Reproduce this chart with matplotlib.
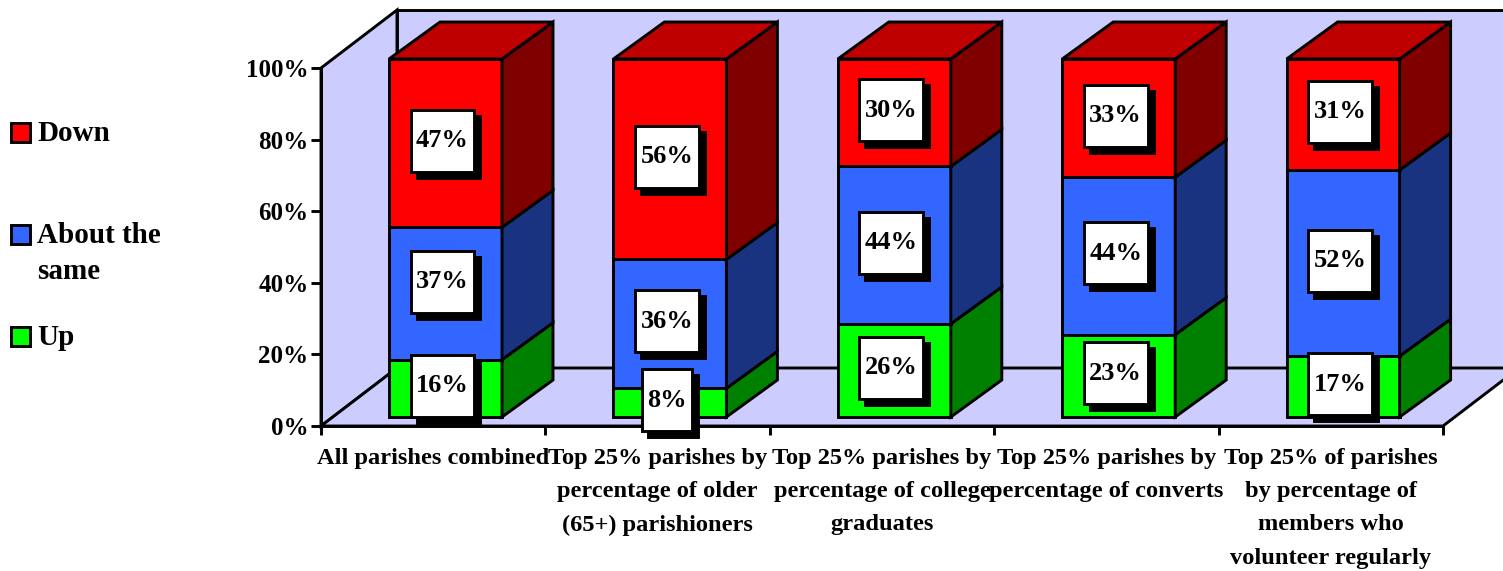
import matplotlib
matplotlib.use("Agg")
import matplotlib.pyplot as plt
from matplotlib.patches import Polygon, Rectangle

# values, in percent
categories = ["All parishes combined",
              "Top 25% parishes by\npercentage of older\n(65+) parishioners",
              "Top 25% parishes by\npercentage of college\ngraduates",
              "Top 25% parishes by\npercentage of converts",
              "Top 25% of parishes\nby percentage of\nmembers who\nvolunteer regularly"]
up = [16, 8, 26, 23, 17]
same = [37, 36, 44, 44, 52]
down = [47, 56, 30, 33, 31]
yticks = [0, 20, 40, 60, 80, 100]

W, H = 1503, 571
FONT = ["Liberation Serif", "DejaVu Serif"]
FS = 18
LW = 2.1

# face, side, top colours
RED = ("#FF0000", "#800000", "#BF0000")
BLUE = ("#3366FF", "#1A3380", "#264DBF")
GREEN = ("#00FF00", "#008000", "#00BF00")

fig = plt.figure(figsize=(W / 100, H / 100), dpi=100)
ax = fig.add_axes([321 / W, 1 - 426 / H, 1122 / W, 358 / H])
ax.set_xlim(0, 5)
ax.set_ylim(0, 100)
ax.patch.set_visible(False)

# pixels per data unit, the fake depth is worked out from these
XU = 1122 / 5
YU = 358 / 100
WALL_DX = 76 / XU
WALL_DY = 58 / YU
BAR_DX = 51 / XU
BAR_DY = 37 / YU
BAR_X0 = 68 / XU
BAR_W = 113 / XU
BAR_LIFT = 9 / YU


def poly(pts, color, z=2):
    ax.add_patch(Polygon(pts, closed=True, facecolor=color, edgecolor="black",
                         linewidth=LW, joinstyle="miter", clip_on=False, zorder=z))


# walls and floor
poly([(0, 0), (WALL_DX, WALL_DY), (WALL_DX, 100 + WALL_DY), (0, 100)], "#CCCCFF", 1)
poly([(WALL_DX, WALL_DY), (5 + WALL_DX, WALL_DY), (5 + WALL_DX, 100 + WALL_DY),
      (WALL_DX, 100 + WALL_DY)], "#CCCCFF", 1)
poly([(0, 0), (5, 0), (5 + WALL_DX, WALL_DY), (WALL_DX, WALL_DY)], "#CCCCFF", 1)

# bars
labels = []
for i in range(len(categories)):
    x0 = i + BAR_X0
    x1 = x0 + BAR_W
    base = 0
    for val, cols in ((up[i], GREEN), (same[i], BLUE), (down[i], RED)):
        b = base + BAR_LIFT
        t = base + val + BAR_LIFT
        poly([(x0, b), (x1, b), (x1, t), (x0, t)], cols[0], 3)
        poly([(x1, b), (x1 + BAR_DX, b + BAR_DY), (x1 + BAR_DX, t + BAR_DY), (x1, t)], cols[1], 3)
        if cols is RED:
            poly([(x0, t), (x1, t), (x1 + BAR_DX, t + BAR_DY), (x0 + BAR_DX, t + BAR_DY)], cols[2], 3)
        labels.append(((x0 + x1) / 2, (b + t) / 2, "%d%%" % val))
        base += val

# axis, ticks are the real ones
for s in ("top", "right"):
    ax.spines[s].set_visible(False)
for s in ("left", "bottom"):
    ax.spines[s].set_linewidth(LW)
    ax.spines[s].set_zorder(2.5)
ax.set_yticks(yticks)
ax.set_yticklabels(["%d%%" % v for v in yticks], family=FONT, fontsize=FS, fontweight="bold")
ax.tick_params(axis="y", length=7, width=LW, pad=2)
ax.set_xticks(range(6))
ax.set_xticklabels([])
ax.tick_params(axis="x", which="major", length=6.5, width=LW)
ax.set_xticks([i + 0.5 for i in range(5)], minor=True)
ax.set_xticklabels(categories, minor=True, family=FONT, fontsize=17.6, fontweight="bold",
                   linespacing=1.78, ha="center", va="top")
ax.tick_params(axis="x", which="minor", length=0, pad=15.5)

# data labels, white box with a black shadow
rend = fig.canvas.get_renderer()
for x, y, s in labels:
    cx = x - 3 / XU
    cy = y + 2.5 / YU
    # the 37% label sits higher in the original so it clears the 16% box
    if s == "37%":
        cy += 9 / YU
    t = ax.text(cx, cy, s, family=FONT, fontsize=19, fontweight="bold", ha="center",
                va="center", zorder=12, clip_on=False)
    w = (t.get_window_extent(rend).width + 11) / XU
    h = 62 / YU
    ax.add_patch(Rectangle((cx - w / 2 + 6 / XU, cy - h / 2 - 6 / YU), w, h, facecolor="black",
                           edgecolor="black", linewidth=LW, clip_on=False, zorder=10))
    ax.add_patch(Rectangle((cx - w / 2, cy - h / 2), w, h, facecolor="white",
                           edgecolor="black", linewidth=LW, clip_on=False, zorder=11))

# legend on the left
legend_items = [("Down", RED[0], 133), ("About the\nsame", BLUE[0], 235), ("Up", GREEN[0], 337)]
for name, col, yp in legend_items:
    fig.add_artist(Rectangle((11 / W, 1 - (yp + 9) / H), 19 / W, 19 / H, facecolor=col,
                             edgecolor="black", linewidth=LW, transform=fig.transFigure))
    fig.text(37 / W, 1 - (yp - 13) / H, name, family=FONT, fontsize=21, fontweight="bold",
             ha="left", va="top", linespacing=1.42)

fig.savefig("out.png", dpi=100)
